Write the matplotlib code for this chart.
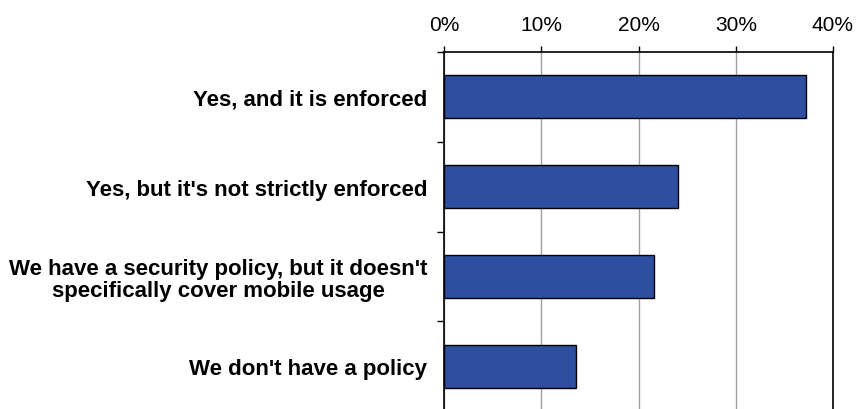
import matplotlib.pyplot as plt
from matplotlib.ticker import FixedLocator

categories = [
    "Yes, and it is enforced",
    "Yes, but it's not strictly enforced",
    "We have a security policy, but it doesn't\nspecifically cover mobile usage",
    "We don't have a policy",
]
values = [37.2, 24.1, 21.6, 13.6]
x_ticks = [0, 10, 20, 30, 40]
x_tick_labels = ["0%", "10%", "20%", "30%", "40%"]

plt.rcParams['font.family'] = ['Liberation Sans', 'DejaVu Sans']

fig = plt.figure(figsize=(8.56, 4.10), dpi=100)
ax = fig.add_axes([444 / 856, -2 / 410, (833 - 444) / 856, (412 - 53) / 410])

pos = list(range(len(categories)))
ax.barh(pos, values, height=0.48, color='#2E4F9F', edgecolor='black', linewidth=1.0, zorder=3)

ax.set_xlim(0, 40)
ax.set_ylim(len(categories) - 0.5, -0.5)

# x axis on top
ax.xaxis.tick_top()
ax.set_xticks(x_ticks)
ax.set_xticklabels(x_tick_labels, fontsize=15)
ax.tick_params(axis='x', direction='out', length=4, width=1, pad=9, colors='black')

# category labels, boundary ticks only
ax.set_yticks(pos)
ax.set_yticklabels(categories, fontsize=16, fontweight='bold', ha='right',
                   multialignment='center', linespacing=1.1)
ax.tick_params(axis='y', which='major', length=0, pad=12)
ax.yaxis.set_minor_locator(FixedLocator([-0.5, 0.5, 1.5, 2.5, 3.5]))
ax.tick_params(axis='y', which='minor', direction='out', length=5, width=1)

ax.grid(axis='x', color='#A0A0A0', linewidth=1, zorder=0)
ax.spines['bottom'].set_visible(False)
for s in ['top', 'left', 'right']:
    ax.spines[s].set_linewidth(1.2)

fig.savefig('out.png', dpi=100)
